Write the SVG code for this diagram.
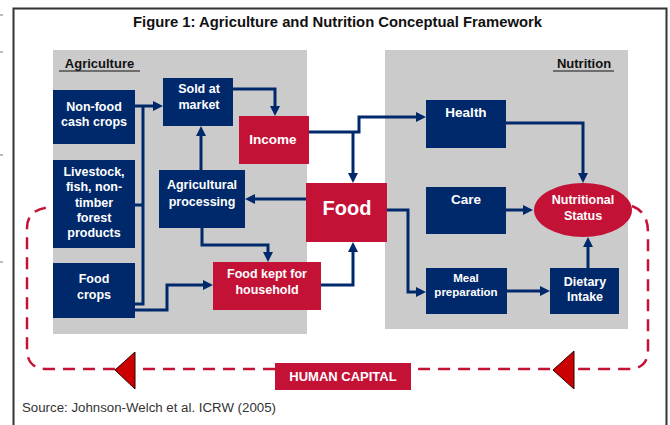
<svg xmlns="http://www.w3.org/2000/svg" width="670" height="425" viewBox="0 0 670 425">
<defs>
<style>
text{font-family:"Liberation Sans",Arial,sans-serif;font-weight:bold;text-anchor:middle;}
.nv{fill:#00296b;}
.cr{fill:#c41236;}
.wt{fill:#ffffff;font-size:12.5px;}
.big{font-size:13.5px;}
.sm{font-size:11.5px;}
.con{fill:none;stroke:#00296b;stroke-width:3;marker-end:url(#ah);}
.conn{fill:none;stroke:#00296b;stroke-width:3;}
.dash{fill:none;stroke:#c41236;stroke-width:2.5;stroke-dasharray:12 8;}
.tri{fill:#cc0000;stroke:#2a0000;stroke-width:1;}
.panel{fill:#cbcbcb;}
</style>
<marker id="ah" viewBox="0 0 10 10" refX="6" refY="5" markerWidth="10" markerHeight="10" markerUnits="userSpaceOnUse" orient="auto">
<path d="M0,0 L10,5 L0,10 z" fill="#00296b"/>
</marker>
</defs>
<rect width="670" height="425" fill="#ffffff"/>
<g stroke="#777" stroke-width="1">
<line x1="0" y1="15" x2="3" y2="15"/>
<line x1="0" y1="52" x2="3" y2="52"/>
<line x1="0" y1="155" x2="3" y2="155"/>
<line x1="0" y1="262" x2="3" y2="262"/>
</g>
<rect x="13.5" y="8.5" width="653" height="430" fill="none" stroke="#333" stroke-width="2"/>
<text x="133" y="27" textLength="409" lengthAdjust="spacingAndGlyphs" style="font-size:14px;fill:#111;text-anchor:start">Figure 1: Agriculture and Nutrition Conceptual Framework</text>

<g id="agriculture-panel">
<rect class="panel" x="53" y="50" width="254" height="284"/>
<text x="99.5" y="68" style="font-size:13px;fill:#111">Agriculture</text>
<line x1="59" y1="71" x2="140" y2="71" stroke="#111" stroke-width="1.2"/>
</g>
<g id="nutrition-panel">
<rect class="panel" x="385" y="50" width="243" height="279"/>
<text x="584" y="68" style="font-size:13px;fill:#111">Nutrition</text>
<line x1="553" y1="71" x2="614" y2="71" stroke="#111" stroke-width="1.2"/>
</g>

<g id="connectors">
<path class="con" d="M135,106 H159"/>
<path class="conn" d="M135,304 H143 V106"/>
<path class="conn" d="M135,205 H143"/>
<path class="con" d="M135,310 H167 V285 H209"/>
<path class="con" d="M233,89 H275 V112"/>
<path class="con" d="M201,170 V130"/>
<path class="con" d="M306,199 H249"/>
<path class="con" d="M202,228 V245 H268 V258"/>
<path class="con" d="M321,285 H353 V246"/>
<path class="con" d="M309,132 H359 V117 H422"/>
<path class="con" d="M353,132 V179"/>
<path class="con" d="M506,123 H583 V179"/>
<path class="con" d="M506,210 H529"/>
<path class="con" d="M387,210 H408 V292 H422"/>
<path class="con" d="M507,291 H546"/>
<path class="con" d="M588,268 V241"/>
<path class="dash" d="M632,206 Q648,212 648,232 V350 Q648,369 628,369 H411"/>
<path class="dash" d="M275,369 H47 Q27,369 27,349 V228 Q27,208 53,207"/>
<polygon class="tri" points="115,370 135,352 135,389"/>
<polygon class="tri" points="553,370 574,351 574,389"/>
</g>

<g id="non-food-cash-crops">
<rect class="nv" x="53" y="90" width="82" height="54"/>
<text class="wt" x="94" y="111">Non-food</text>
<text class="wt" x="94" y="126">cash crops</text>
</g>
<g id="livestock">
<rect class="nv" x="53" y="160" width="82" height="88"/>
<text class="wt" x="94" y="176">Livestock,</text>
<text class="wt" x="94" y="191">fish, non-</text>
<text class="wt" x="94" y="207">timber</text>
<text class="wt" x="94" y="222">forest</text>
<text class="wt" x="94" y="237">products</text>
</g>
<g id="food-crops">
<rect class="nv" x="53" y="263" width="82" height="55"/>
<text class="wt" x="94" y="283">Food</text>
<text class="wt" x="94" y="299">crops</text>
</g>
<g id="sold-at-market">
<rect class="nv" x="163" y="78" width="70" height="48"/>
<text class="wt" x="199" y="93">Sold at</text>
<text class="wt" x="199" y="109">market</text>
</g>
<g id="income">
<rect class="cr" x="239" y="116" width="70" height="48"/>
<text class="wt big" x="273" y="144">Income</text>
</g>
<g id="agricultural-processing">
<rect class="nv" x="159" y="170" width="86" height="58"/>
<text class="wt" x="202" y="189">Agricultural</text>
<text class="wt" x="202" y="206">processing</text>
</g>
<g id="food">
<rect class="cr" x="306" y="183" width="81" height="59"/>
<text x="347" y="215" style="fill:#fff;font-size:20px">Food</text>
</g>
<g id="food-kept-for-household">
<rect class="cr" x="213" y="262" width="108" height="48"/>
<text class="wt" x="267" y="278">Food kept for</text>
<text class="wt" x="267" y="294">household</text>
</g>
<g id="health">
<rect class="nv" x="426" y="100" width="80" height="48"/>
<text class="wt big" x="466" y="117">Health</text>
</g>
<g id="care">
<rect class="nv" x="426" y="187" width="80" height="47"/>
<text class="wt big" x="466" y="204">Care</text>
</g>
<g id="nutritional-status">
<ellipse class="cr" cx="583" cy="210" rx="49" ry="27"/>
<text class="wt" x="583" y="204">Nutritional</text>
<text class="wt" x="583" y="220">Status</text>
</g>
<g id="meal-preparation">
<rect class="nv" x="426" y="268" width="81" height="46"/>
<text class="wt sm" x="466" y="282">Meal</text>
<text class="wt sm" x="466" y="296">preparation</text>
</g>
<g id="dietary-intake">
<rect class="nv" x="550" y="268" width="69" height="46"/>
<text class="wt" x="585" y="286">Dietary</text>
<text class="wt" x="585" y="301">Intake</text>
</g>
<g id="human-capital">
<rect class="cr" x="275" y="363" width="136" height="27"/>
<text class="wt" x="343" y="381" style="font-size:13px">HUMAN CAPITAL</text>
</g>
<text x="22" y="412" textLength="254" lengthAdjust="spacingAndGlyphs" style="font-size:12px;font-weight:normal;text-anchor:start;fill:#333">Source: Johnson-Welch et al. ICRW  (2005)</text>
</svg>
